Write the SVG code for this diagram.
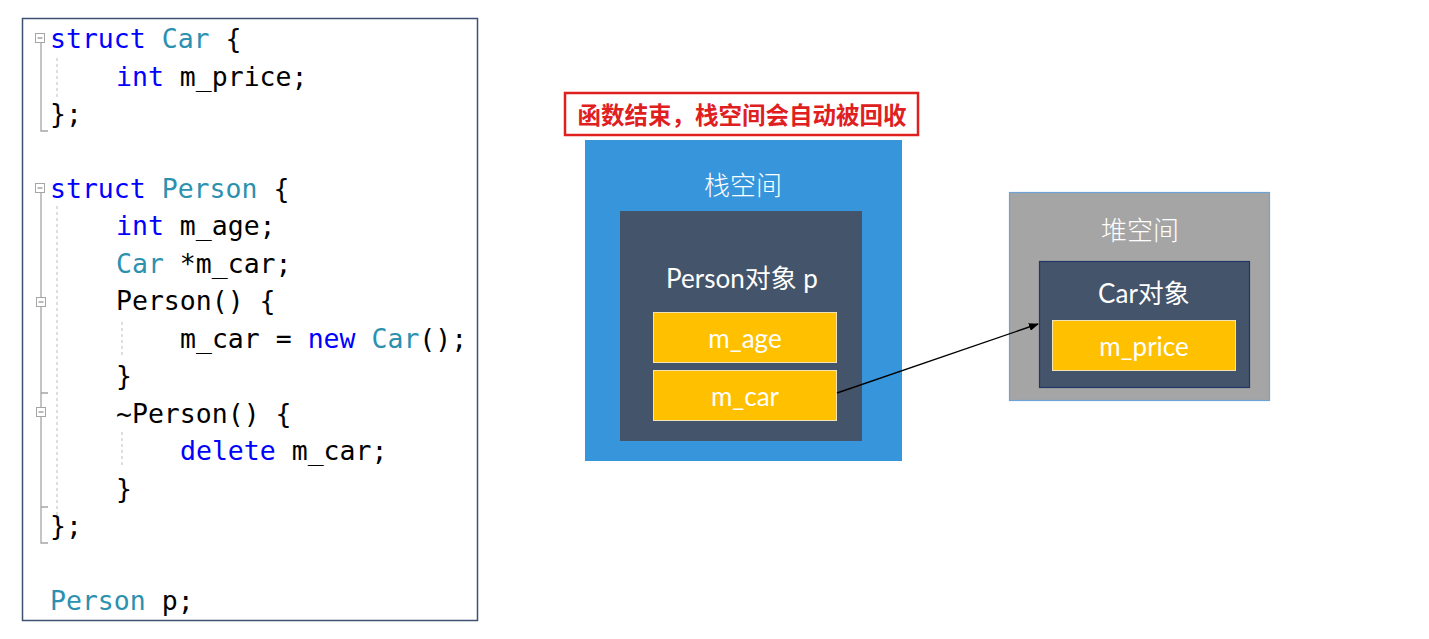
<svg xmlns="http://www.w3.org/2000/svg" width="1429" height="639" viewBox="0 0 1429 639">
<style>
.code{font-family:"DejaVu Sans Mono","Liberation Mono",monospace;font-size:26.5px;fill:#000}
.kw{fill:#0000ff}
.ty{fill:#2b91af}
.fold{stroke:#a5a5a5;stroke-width:1.3;fill:none}
.guide{stroke:#c8c8c8;stroke-width:1.2;stroke-dasharray:3 3;fill:none}
.fbox{fill:#fff;stroke:#a5a5a5;stroke-width:1}
.lbl{font-family:Lato,"Noto Sans CJK SC",sans-serif;fill:#fff;text-anchor:middle;dominant-baseline:central}
.field{fill:#ffc000;stroke:#f2e3b8;stroke-width:1}
.obj{fill:#44546a}
</style>
<defs>
<marker id="arr" markerWidth="10" markerHeight="8" refX="9" refY="4" orient="auto" markerUnits="userSpaceOnUse">
<path d="M0,0 L10,4 L0,8 z" fill="#000"/>
</marker>
</defs>

<g id="code">
<rect x="22.5" y="18.5" width="455" height="602" fill="#fff" stroke="#3f5172" stroke-width="1.5"/>
<path class="fold" d="M41,43 V131 H48"/>
<path class="fold" d="M41,193 V543 H48 M41,393 H48 M41,507 H48"/>
<rect class="fbox" x="35.5" y="33.5" width="9" height="9"/>
<path d="M37.5,38 H42.5" stroke="#777" stroke-width="1"/>
<rect class="fbox" x="35.5" y="183.5" width="9" height="9"/>
<path d="M37.5,188 H42.5" stroke="#777" stroke-width="1"/>
<rect class="fbox" x="36.5" y="297.5" width="9" height="9"/>
<path d="M38.5,302 H43.5" stroke="#777" stroke-width="1"/>
<rect class="fbox" x="36.5" y="407.5" width="9" height="9"/>
<path d="M38.5,412 H43.5" stroke="#777" stroke-width="1"/>
<path class="guide" d="M57,58 V98 M57,206 V520 M122,322 V358 M122,432 V468"/>

<text class="code" x="50" y="48"><tspan class="kw">struct</tspan> <tspan class="ty">Car</tspan> {</text>
<text class="code" x="116" y="85.5"><tspan class="kw">int</tspan> m_price;</text>
<text class="code" x="50" y="123">};</text>
<text class="code" x="50" y="197.5"><tspan class="kw">struct</tspan> <tspan class="ty">Person</tspan> {</text>
<text class="code" x="116" y="235"><tspan class="kw">int</tspan> m_age;</text>
<text class="code" x="116" y="272.5"><tspan class="ty">Car</tspan> *m_car;</text>
<text class="code" x="116" y="310">Person() {</text>
<text class="code" x="180" y="347.5">m_car = <tspan class="kw">new</tspan> <tspan class="ty">Car</tspan>();</text>
<text class="code" x="116" y="385">}</text>
<text class="code" x="116" y="422.5">~Person() {</text>
<text class="code" x="180" y="460"><tspan class="kw">delete</tspan> m_car;</text>
<text class="code" x="116" y="497.5">}</text>
<text class="code" x="50" y="535">};</text>
<text class="code" x="50" y="609.5"><tspan class="ty">Person</tspan> p;</text>
</g>

<g id="note">
<rect x="565" y="93" width="353" height="42" fill="#fff" stroke="#e0201f" stroke-width="2.5"/>
<text x="742" y="114" font-family="'Noto Sans CJK SC',sans-serif" font-weight="bold" font-size="23.5" fill="#e0201f" text-anchor="middle" dominant-baseline="central">函数结束，栈空间会自动被回收</text>
</g>

<g id="stack">
<rect x="585" y="140" width="317" height="321" fill="#3796db"/>
<text class="lbl" x="743" y="185" font-size="26" fill="#eef4fb" font-weight="300">栈空间</text>
</g>

<g id="person">
<rect class="obj" x="620" y="211" width="242" height="230"/>
<text class="lbl" x="742" y="278" font-size="26">Person对象 p</text>
</g>

<g id="m_age">
<rect class="field" x="653.5" y="312.5" width="183" height="50"/>
<text class="lbl" x="745" y="338" font-size="26">m_age</text>
</g>

<g id="m_car">
<rect class="field" x="653.5" y="370.5" width="183" height="50"/>
<text class="lbl" x="745" y="396" font-size="26">m_car</text>
</g>

<g id="heap">
<rect x="1009.5" y="192.5" width="260" height="208" fill="#a5a5a5" stroke="#6fa3d8" stroke-width="1.2"/>
<text class="lbl" x="1140" y="230" font-size="26" fill="#f2f2f2" font-weight="300">堆空间</text>
</g>

<g id="car">
<rect class="obj" x="1039.5" y="261.5" width="210" height="126" stroke="#1f3864" stroke-width="1.2"/>
<text class="lbl" x="1144" y="293" font-size="26">Car对象</text>
</g>

<g id="m_price">
<rect class="field" x="1052.5" y="320.5" width="183" height="50"/>
<text class="lbl" x="1144" y="346" font-size="26">m_price</text>
</g>

<g id="connectors">
<line x1="837" y1="393" x2="1038" y2="324" stroke="#000" stroke-width="1.4" marker-end="url(#arr)"/>
</g>
</svg>
